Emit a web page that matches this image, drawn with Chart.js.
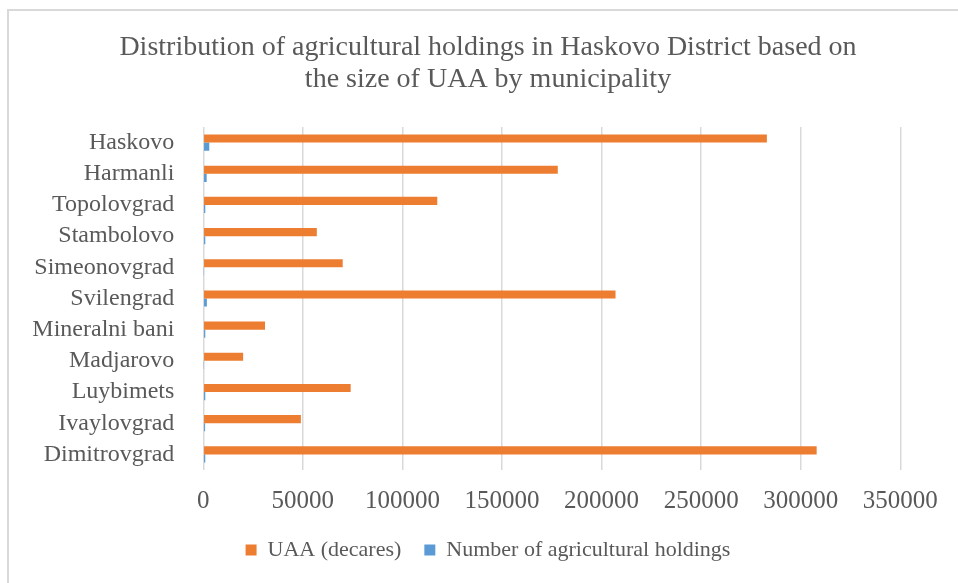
<!DOCTYPE html>
<html>
<head>
<meta charset="utf-8">
<script src="https://cdn.jsdelivr.net/npm/chart.js@4.4.1/dist/chart.umd.min.js"></script>
<style>
  html, body { margin: 0; padding: 0; background: #fff; overflow: hidden; }
  #wrap { position: relative; width: 958px; height: 583px; }
  #frame { position: absolute; left: 7px; top: 9px; width: 1000px; height: 700px;
           border-left: 2px solid #d9d9d9; border-top: 2px solid #d9d9d9; }
  canvas { position: absolute; left: 0; top: 0; }
</style>
</head>
<body>
<div id="wrap">
  <div id="frame"></div>
  <canvas id="c" width="958" height="583"></canvas>
</div>
<script>
const titleLines = ["Distribution of agricultural holdings in Haskovo District based on", "the size of UAA by municipality"];
const municipalities = ["Haskovo", "Harmanli", "Topolovgrad", "Stambolovo", "Simeonovgrad", "Svilengrad", "Mineralni bani", "Madjarovo", "Luybimets", "Ivaylovgrad", "Dimitrovgrad"];
const uaaDecares = [283000, 178000, 117500, 57000, 70000, 207000, 31000, 20000, 74000, 49000, 308000];
const holdingsCount = [3000, 1700, 1000, 1000, 200, 1800, 1000, 200, 1000, 900, 1000];
const seriesNames = ["UAA (decares)", "Number of agricultural holdings"];
const xTickStep = 50000;
const xMax = 350000;

const FONT = "'Liberation Serif', 'Times New Roman', serif";
const GREY = '#595959';

new Chart(document.getElementById('c'), {
  type: 'bar',
  data: {
    labels: municipalities,
    datasets: [
      { label: seriesNames[0], data: uaaDecares, backgroundColor: '#ED7D31', borderWidth: 0,
        categoryPercentage: 0.52, barPercentage: 1.0 },
      { label: seriesNames[1], data: holdingsCount, backgroundColor: '#5B9BD5', borderWidth: 0,
        categoryPercentage: 0.52, barPercentage: 1.0 }
    ]
  },
  options: {
    indexAxis: 'y',
    responsive: false,
    animation: false,
    layout: { padding: { left: 18, right: 0, top: 0, bottom: 12 } },
    plugins: {
      title: {
        display: true,
        text: titleLines,
        color: GREY,
        font: { family: FONT, size: 28, weight: 'normal', lineHeight: 1.143 },
        padding: { top: 32, bottom: 31 }
      },
      legend: {
        position: 'bottom',
        labels: {
          color: GREY,
          font: { family: FONT, size: 22 },
          boxWidth: 11, boxHeight: 11,
          padding: 23
        }
      },
      tooltip: { enabled: false }
    },
    scales: {
      x: {
        min: 0, max: xMax,
        ticks: { stepSize: xTickStep, color: GREY, padding: 16,
                 font: { family: FONT, size: 25, lineHeight: 1.2 },
                 callback: (v) => String(v) },
        grid: { color: '#d9d9d9', lineWidth: 1.5, drawTicks: false },
        border: { display: false },
        afterFit: (s) => { s.height = 46; }
      },
      y: {
        ticks: { color: GREY, padding: 29, autoSkip: false, font: { family: FONT, size: 24 } },
        grid: { display: false, drawTicks: false },
        border: { display: false },
        afterFit: (s) => { s.width = 185.3; }
      },
      yRight: {
        type: 'category',
        position: 'right',
        labels: municipalities,
        ticks: { display: false },
        grid: { display: false, drawTicks: false },
        border: { display: false },
        afterFit: (s) => { s.width = 57.7; }
      }
    }
  }
});
</script>
</body>
</html>
